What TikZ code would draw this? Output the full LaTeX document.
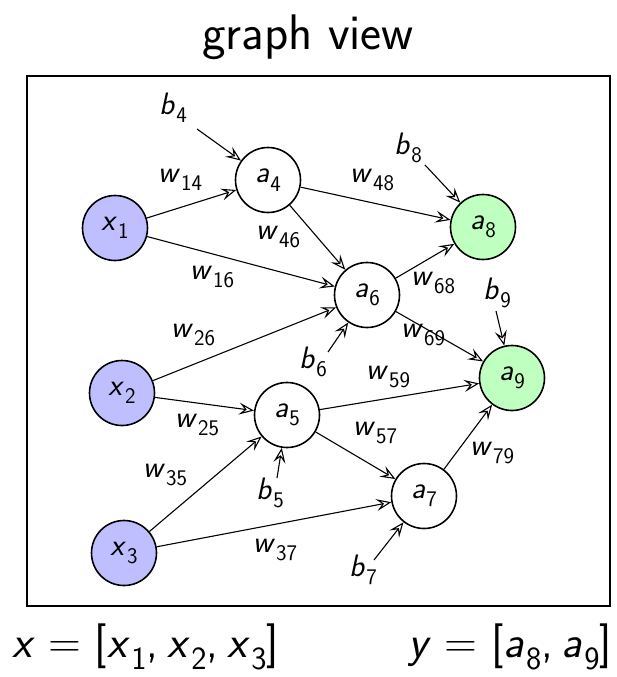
\documentclass[tikz,border=0pt]{standalone}
\usepackage{fontspec}
\usepackage{graphicx}
\usetikzlibrary{arrows.meta}
\definecolor{inblue}{RGB}{191,191,255}
\definecolor{outgreen}{RGB}{191,255,191}
\newcommand\vr[2]{\textit{#1}\kern0.03em\raisebox{-0.27em}{\scalebox{0.72}{#2}}}
\begin{document}
\begin{tikzpicture}[x=1pt,y=-1pt,
  neuron/.style={circle,draw=black,line width=1.6pt,minimum size=65pt,inner sep=0pt,font=\fontsize{31}{31}\selectfont\sffamily},
  innode/.style={neuron,fill=inblue},
  outnode/.style={neuron,fill=outgreen},
  hidnode/.style={neuron,fill=white},
  lbl/.style={font=\fontsize{31}{31}\selectfont\sffamily,inner sep=0pt},
  conn/.style={line width=1.1pt,-{Stealth[open,length=15pt,width=12pt,inset=6pt,line width=1.1pt]}}
]
\useasboundingbox (0,0) rectangle (616,677);
\node[font=\fontsize{50}{50}\selectfont\sffamily,anchor=base] (title) at (308,50) {graph view};
\draw[line width=2.8pt] (27,76) rectangle (610,606);

\node[innode] (x1) at (115,228) {\vr{x}{1}};
\node[innode] (x2) at (122,393) {\vr{x}{2}};
\node[innode] (x3) at (124,553) {\vr{x}{3}};
\node[hidnode] (a4) at (268,180) {\vr{a}{4}};
\node[hidnode] (a6) at (367,295) {\vr{a}{6}};
\node[hidnode] (a5) at (287,415) {\vr{a}{5}};
\node[hidnode] (a7) at (424,496) {\vr{a}{7}};
\node[outnode] (a8) at (483,227) {\vr{a}{8}};
\node[outnode] (a9) at (512,378) {\vr{a}{9}};

\draw[conn] (x1) -- (a4);
\draw[conn] (x1) -- (a6);
\draw[conn] (a4) -- (a8);
\draw[conn] (a4) -- (a6);
\draw[conn] (a6) -- (a8);
\draw[conn] (a6) -- (a9);
\draw[conn] (x2) -- (a6);
\draw[conn] (x2) -- (a5);
\draw[conn] (a5) -- (a9);
\draw[conn] (a5) -- (a7);
\draw[conn] (x3) -- (a5);
\draw[conn] (x3) -- (a7);
\draw[conn] (a7) -- (a9);

\node[lbl] (b4) at (173,108) {\vr{b}{4}};
\node[lbl] (b8) at (408,148) {\vr{b}{8}};
\node[lbl] (b9) at (497,293) {\vr{b}{9}};
\node[lbl] (b6) at (313,362) {\vr{b}{6}};
\node[lbl] (b5) at (270,493) {\vr{b}{5}};
\node[lbl] (b7) at (363,570) {\vr{b}{7}};
\coordinate (s4) at (197,129);
\coordinate (s8) at (425,165);
\coordinate (s9) at (496,311);
\coordinate (s6) at (328,352);
\coordinate (s5) at (277,478);
\coordinate (s7) at (374,560);
\draw[conn] (s4) -- (a4);
\draw[conn] (s8) -- (a8);
\draw[conn] (s9) -- (a9);
\draw[conn] (s6) -- (a6);
\draw[conn] (s5) -- (a5);
\draw[conn] (s7) -- (a7);

\node[lbl] (w14) at (180,180) {\vr{w}{14}};
\node[lbl] (w46) at (278,237) {\vr{w}{46}};
\node[lbl] (w16) at (212,277) {\vr{w}{16}};
\node[lbl] (w26) at (193,335) {\vr{w}{26}};
\node[lbl] (w48) at (372,180) {\vr{w}{48}};
\node[lbl] (w68) at (433,283) {\vr{w}{68}};
\node[lbl] (w69) at (423,335) {\vr{w}{69}};
\node[lbl] (w25) at (197,425) {\vr{w}{25}};
\node[lbl] (w35) at (165,475) {\vr{w}{35}};
\node[lbl] (w37) at (275,550) {\vr{w}{37}};
\node[lbl] (w59) at (388,377) {\vr{w}{59}};
\node[lbl] (w57) at (375,433) {\vr{w}{57}};
\node[lbl] (w79) at (492,453) {\vr{w}{79}};

\node[font=\fontsize{45}{45}\selectfont\sffamily,anchor=base west,inner sep=0pt] (xvec) at (12,657) {\textit{x}\hspace{0.3em}=\hspace{0.3em}[\vr{x}{1},\hspace{0.2em}\vr{x}{2},\hspace{0.2em}\vr{x}{3}]};
\node[font=\fontsize{45}{45}\selectfont\sffamily,anchor=base east,inner sep=0pt] (yvec) at (612,657) {\textit{y}\hspace{0.3em}=\hspace{0.3em}[\vr{a}{8},\hspace{0.2em}\vr{a}{9}]};
\end{tikzpicture}
\end{document}
